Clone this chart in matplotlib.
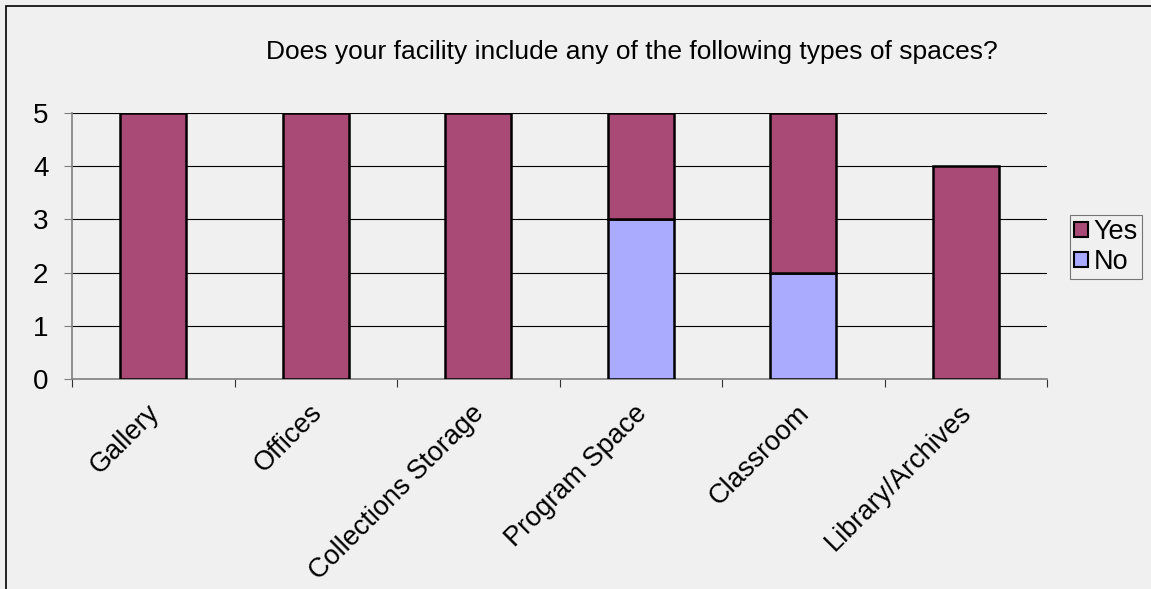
import numpy as np
import matplotlib
matplotlib.use("Agg")
import matplotlib.pyplot as plt
from matplotlib.patches import Rectangle
from matplotlib.transforms import ScaledTranslation

plt.rcParams['font.family'] = ['Liberation Sans', 'DejaVu Sans']

categories = ["Gallery", "Offices", "Collections Storage", "Program Space",
              "Classroom", "Library/Archives"]
no_counts = [0, 0, 0, 3, 2, 0]
yes_counts = [5, 5, 5, 2, 3, 4]
title = "Does your facility include any of the following types of spaces?"

bg = "#f0f0f0"
yes_color = "#a94a76"
no_color = "#aaaaff"

fig = plt.figure(figsize=(11.51, 5.89), dpi=100, facecolor=bg)
ax = fig.add_axes([72 / 1151, 1 - 379 / 589, 975 / 1151, 266 / 589])
ax.set_facecolor(bg)

x = np.arange(len(categories))
w = 0.406
ax.bar(x, no_counts, w, color=no_color, edgecolor="black", linewidth=1.8,
       label="No", zorder=3)
ax.bar(x, yes_counts, w, bottom=no_counts, color=yes_color, edgecolor="black",
       linewidth=1.8, label="Yes", zorder=3)

ax.set_xlim(-0.5, len(categories) - 0.5)
ax.set_ylim(0, 5)
ax.set_yticks(range(6))
ax.yaxis.grid(True, color="black", linewidth=0.8, zorder=0)
ax.set_axisbelow(True)

for side in ("top", "right"):
    ax.spines[side].set_visible(False)
for side in ("left", "bottom"):
    ax.spines[side].set_color("#808080")
    ax.spines[side].set_linewidth(1.2)

ax.tick_params(axis="y", length=6, width=0.8, color="#808080", pad=11,
               labelsize=20)
ax.set_xticks(x)
ax.set_xticks(np.arange(-0.5, len(categories)), minor=True)
ax.tick_params(axis="x", which="major", length=0, pad=12)
ax.tick_params(axis="x", which="minor", length=6, width=0.8, color="#333333")
ax.set_xticklabels(categories, rotation=45, ha="right", va="top",
                   rotation_mode="anchor", fontsize=19.5)
# nudge the slanted category names a little left and down
shift = ScaledTranslation(-5 / 72, -3 / 72, fig.dpi_scale_trans)
for lbl in ax.get_xticklabels():
    lbl.set_transform(lbl.get_transform() + shift)

fig.text(632 / 1151, 1 - 52 / 589, title, ha="center", va="center",
         fontsize=19)

handles, labels = ax.get_legend_handles_labels()
leg = fig.legend(handles[::-1], labels[::-1], loc="center",
                 bbox_to_anchor=(1106 / 1151, 1 - 247 / 589), fontsize=19.5,
                 frameon=True, fancybox=False, handlelength=0.5,
                 handleheight=0.5, handletextpad=0.2, borderpad=0.15,
                 labelspacing=0.15, borderaxespad=0)
leg.get_frame().set_edgecolor("#555555")
leg.get_frame().set_facecolor(bg)
leg.get_frame().set_linewidth(0.8)
for h in leg.legend_handles:
    h.set_linewidth(1.5)

# outer chart border, open to the right and bottom
fig.patches.append(Rectangle((6 / 1151, -0.1), 1.2, 1 - 6 / 589 + 0.1,
                             transform=fig.transFigure, fill=False,
                             edgecolor="black", linewidth=1.2))

fig.savefig("out.png", dpi=100, facecolor=bg)
